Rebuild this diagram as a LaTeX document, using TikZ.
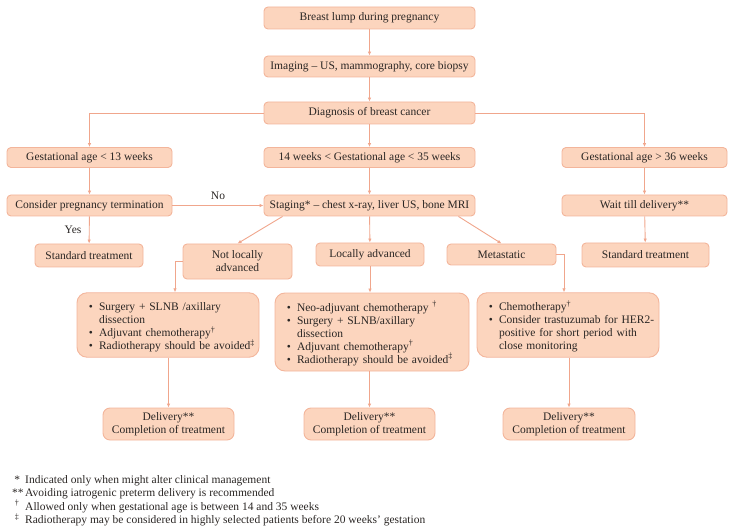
\documentclass[tikz,border=0pt]{standalone}
\usepackage{fontspec}
\setmainfont{Liberation Serif}
\usepackage{enumitem}
\usetikzlibrary{arrows.meta}
\usetikzlibrary{calc}
\usetikzlibrary{positioning}
\definecolor{boxfill}{HTML}{FCD5BE}
\definecolor{boxline}{HTML}{F3B59B}
\definecolor{flowline}{HTML}{F0A68C}
\definecolor{txt}{HTML}{2A2624}
\setlist[itemize]{nosep,leftmargin=18pt,rightmargin=-8pt,labelsep=6pt,label=\textbullet}
\newcommand{\dg}{\textsuperscript{\textdagger}}
\newcommand{\ddg}{\textsuperscript{\textdaggerdbl}}

\begin{document}
\begin{tikzpicture}[
  x=1pt, y=-1pt,
  > = {Latex[length=4pt,width=3.5pt]},
  every node/.style = {font=\fontsize{11.5}{13}\selectfont, text=txt},
  box/.style = {draw=boxline, fill=boxfill, line width=0.9pt, rounded corners=4pt, align=center, inner sep=2pt},
  listbox/.style = {box, rounded corners=10pt, align=left, inner xsep=4pt, inner ysep=5pt},
  endbox/.style = {box, rounded corners=7pt},
  flow/.style = {draw=flowline, line width=0.9pt, ->}
  ]
	\useasboundingbox (0,0) rectangle (733,529);

	% top column
	\node[box, minimum width=211pt, minimum height=22pt] (lump) at (369.5,18) {Breast lump during pregnancy};
	\node[box, minimum width=211pt, minimum height=21pt] (imaging) at (369.5,66.5) {Imaging – US, mammography, core biopsy};
	\node[box, minimum width=211pt, minimum height=22pt] (diag) at (369.5,113) {Diagnosis of breast cancer};

	% gestational age
	\node[box, minimum width=165pt, minimum height=20pt] (ga13) at (89.5,157.5) {Gestational age < 13 weeks};
	\node[box, minimum width=211pt, minimum height=20pt] (ga1435) at (369.5,157.5) {14 weeks < Gestational age < 35 weeks};
	\node[box, minimum width=165pt, minimum height=20pt] (ga36) at (644.5,157.5) {Gestational age > 36 weeks};

	\node[box, minimum width=165pt, minimum height=21pt] (term) at (89.5,205.5) {Consider pregnancy termination};
	\node[box, minimum width=211pt, minimum height=21pt] (staging) at (369.5,205.5) {Staging* – chest x-ray, liver US, bone MRI};
	\node[box, minimum width=165pt, minimum height=21pt] (wait) at (644.5,205.5) {Wait till delivery**};

	\node[box, minimum width=108pt, minimum height=23pt] (std1) at (89,255.5) {Standard treatment};
	\node[box, minimum width=109pt, minimum height=35pt] (nla) at (237.5,261.5) {Not locally\\advanced};
	\node[box, minimum width=108pt, minimum height=23pt] (la) at (370,254.5) {Locally advanced};
	\node[box, minimum width=109pt, minimum height=21pt] (meta) at (501.5,254.5) {Metastatic};
	\node[box, minimum width=127pt, minimum height=24pt] (std2) at (645.5,255) {Standard treatment};

	% treatment lists
	\node[listbox, text width=174pt, minimum height=64pt] (b1) at (168,325) {%
		\begin{itemize}
		\item Surgery + SLNB /axillary\newline dissection
		\item Adjuvant chemotherapy\dg
		\item Radiotherapy should be avoided\ddg
		\end{itemize}};
	\node[listbox, text width=186pt, minimum height=78pt] (b2) at (372,332) {%
		\begin{itemize}
		\item Neo-adjuvant chemotherapy \dg
		\item Surgery + SLNB/axillary\newline dissection
		\item Adjuvant chemotherapy\dg
		\item Radiotherapy should be avoided\ddg
		\end{itemize}};
	\node[listbox, text width=174pt, minimum height=64pt] (b3) at (568,325) {%
		\begin{itemize}
		\item Chemotherapy\dg
		\item Consider trastuzumab for HER2-\newline positive for short period with\newline close monitoring
		\end{itemize}};

	\node[endbox, minimum width=131pt, minimum height=32pt] (d1) at (168.5,424) {Delivery**\\Completion of treatment};
	\node[endbox, minimum width=131pt, minimum height=32pt] (d2) at (369.5,424) {Delivery**\\Completion of treatment};
	\node[endbox, minimum width=132pt, minimum height=32pt] (d3) at (569,424) {Delivery**\\Completion of treatment};

	% connectors
	\draw[flow] (lump) -- (imaging);
	\draw[flow] (imaging) -- (diag);
	\draw[flow] (diag) -- (ga1435);
	\draw[flow] (diag.west) -| (ga13.north);
	\draw[flow] (diag.east) -| (ga36.north);
	\draw[flow] (ga13) -- (term);
	\draw[flow] (ga1435) -- (staging);
	\draw[flow] (ga36) -- (wait);
	\draw[flow] (term) -- node[left=4pt] {Yes} (std1);
	\draw[flow] (term) -- node[above=2pt] {No} (staging);
	\draw[flow] (wait) -- (std2);
	\draw[flow] ($(staging.south west)+(19,0)$) -- (nla.north);
	\draw[flow] (staging) -- (la);
	\draw[flow] ($(staging.south east)+(-17,0)$) -- (meta.north);
	\draw[flow] (nla.west) -| ($(b1.north)+(7,0)$);
	\draw[flow] (la) -- (la |- b2.north);
	\draw[flow] (meta.east) -| ($(b3.north)+(-4,0)$);
	\draw[flow] (d1 |- b1.south) -- (d1.north);
	\draw[flow] (d2 |- b2.south) -- (d2.north);
	\draw[flow] (d3 |- b3.south) -- (d3.north);

	% footnotes
	\node[anchor=north west, inner sep=0pt] (notes) at (12,474) {%
		\begin{tabular}{@{}p{10pt}@{\hspace{3pt}}l@{}}
		\hfil* & Indicated only when might alter clinical management\\
		\relax ** & Avoiding iatrogenic preterm delivery is recommended\\
		\hfil\textsuperscript{\textdagger} & Allowed only when gestational age is between 14 and 35 weeks\\
		\hfil\textsuperscript{\textdaggerdbl} & Radiotherapy may be considered in highly selected patients before 20 weeks’ gestation
		\end{tabular}};
\end{tikzpicture}
\end{document}
